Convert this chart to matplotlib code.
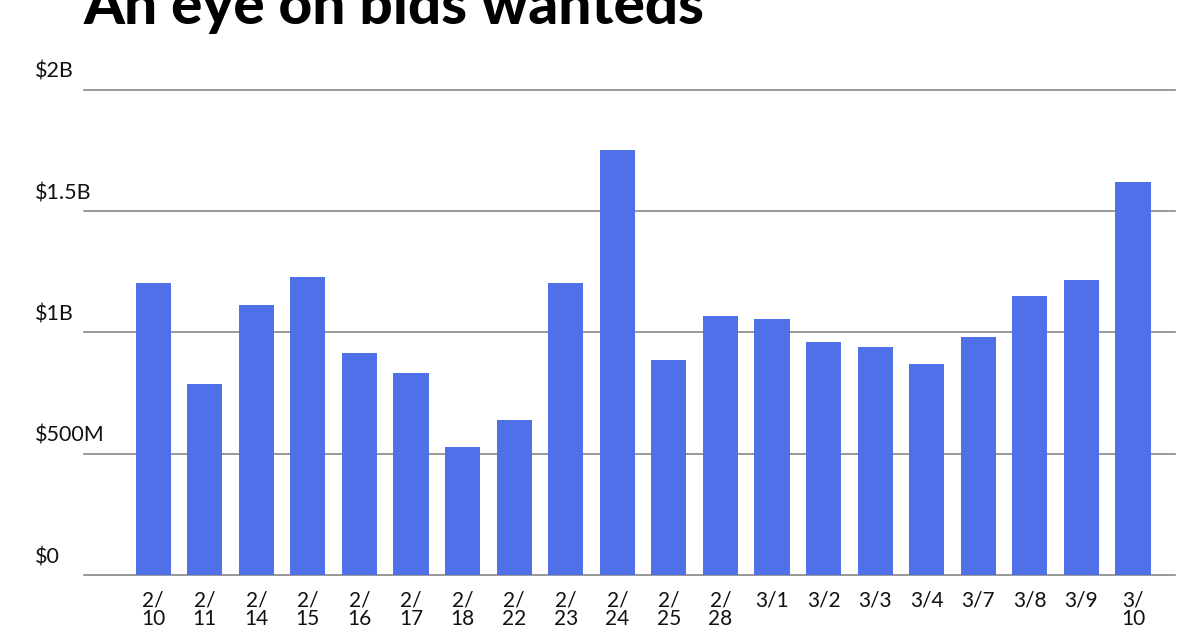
import matplotlib
matplotlib.use("Agg")
import matplotlib.pyplot as plt

plt.rcParams['font.family'] = ['Lato', 'DejaVu Sans']

# Dates (trading days) and bids wanted volume in dollars
dates = ["2/\n10", "2/\n11", "2/\n14", "2/\n15", "2/\n16", "2/\n17", "2/\n18", "2/\n22",
         "2/\n23", "2/\n24", "2/\n25", "2/\n28", "3/1", "3/2", "3/3", "3/4", "3/7",
         "3/8", "3/9", "3/\n10"]
volume = [1.204e9, 0.788e9, 1.113e9, 1.229e9, 0.915e9, 0.833e9, 0.528e9, 0.639e9,
          1.204e9, 1.753e9, 0.887e9, 1.068e9, 1.056e9, 0.961e9, 0.940e9, 0.870e9,
          0.981e9, 1.151e9, 1.216e9, 1.621e9]
y_ticks = [0, 0.5e9, 1e9, 1.5e9, 2e9]
y_labels = ["$0", "$500M", "$1B", "$1.5B", "$2B"]

fig = plt.figure(figsize=(12, 6.3), dpi=100)
ax = fig.add_axes([0.07, 0.0873, 0.909, 0.77])

x = list(range(len(dates)))
ax.bar(x, volume, width=0.68, color="#5070EA", zorder=3)

ax.set_ylim(0, 2e9)
ax.set_xlim(-1.34, 19.81)

# horizontal gridlines with labels sitting above them on the left
for t, lab in zip(y_ticks, y_labels):
    ax.axhline(t, color="#888888", linewidth=1.2, zorder=1, clip_on=False)
    ax.annotate(lab, xy=(0, t), xycoords=("figure fraction", "data"),
                xytext=(35, 8), textcoords="offset pixels",
                ha="left", va="bottom", fontsize=15.5, color="#111111")

ax.set_yticks([])
ax.set_xticks(x)
ax.set_xticklabels(dates, fontsize=15, color="#111111", va="top", linespacing=0.95)
ax.tick_params(axis="x", length=0, pad=11)
for s in ax.spines.values():
    s.set_visible(False)

fig.text(84 / 1200, 1 - 24 / 630, "An eye on bids wanteds", fontsize=42,
         fontweight="black", ha="left", va="baseline", color="black")

fig.savefig("out.png", dpi=100)
